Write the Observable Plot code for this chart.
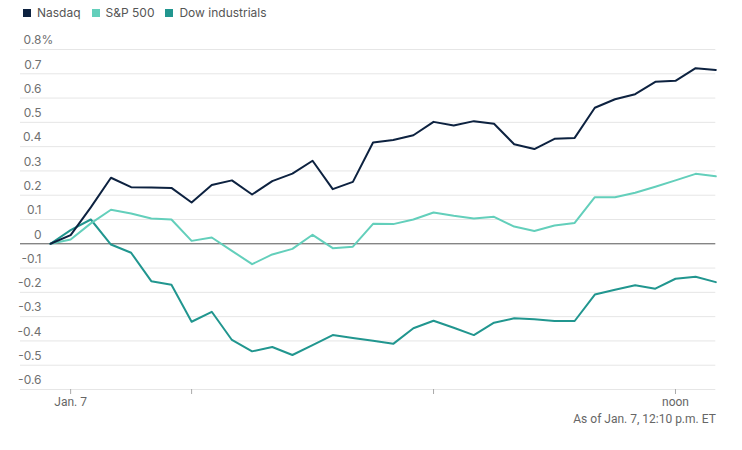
<!DOCTYPE html>
<html><head><meta charset="utf-8">
<script src="https://cdn.jsdelivr.net/npm/d3@7"></script>
<script src="https://cdn.jsdelivr.net/npm/@observablehq/plot@0.6"></script>
<style>
body{margin:0;background:#fff;font-family:Inter,sans-serif;}
#legend{height:25px;display:flex;align-items:center;padding-left:23px;font-size:12px;color:#555;}
.item{display:flex;align-items:center;margin-right:11px;}
.sw{width:8px;height:8px;margin-right:6px;}
svg{display:block;}
</style></head><body>
<div id="legend"></div>
<div id="chart"></div>
<script>
const seriesNames = ["Nasdaq", "S&P 500", "Dow industrials"];
const seriesColors = ["#0d2240", "#63cfbb", "#21968f"];
const times = ["09:25","09:30","09:35","09:40","09:45","09:50","09:55","10:00","10:05","10:10","10:15","10:20","10:25","10:30","10:35","10:40","10:45","10:50","10:55","11:00","11:05","11:10","11:15","11:20","11:25","11:30","11:35","11:40","11:45","11:50","11:55","12:00","12:05","12:10"];
const nasdaq = [0, 0.036, 0.15, 0.272, 0.233, 0.232, 0.230, 0.170, 0.242, 0.261, 0.203, 0.258, 0.289, 0.342, 0.225, 0.255, 0.417, 0.427, 0.447, 0.502, 0.487, 0.505, 0.494, 0.41, 0.39, 0.432, 0.436, 0.56, 0.595, 0.616, 0.667, 0.671, 0.723, 0.716];
const sp500 = [0, 0.018, 0.084, 0.14, 0.125, 0.104, 0.10, 0.012, 0.026, -0.029, -0.084, -0.044, -0.021, 0.037, -0.018, -0.012, 0.082, 0.081, 0.10, 0.129, 0.115, 0.104, 0.111, 0.071, 0.053, 0.075, 0.086, 0.192, 0.192, 0.21, 0.235, 0.261, 0.288, 0.278];
const dow = [0, 0.056, 0.10, -0.003, -0.037, -0.154, -0.169, -0.321, -0.28, -0.396, -0.443, -0.425, -0.458, -0.417, -0.376, -0.388, -0.399, -0.412, -0.348, -0.317, -0.346, -0.376, -0.325, -0.307, -0.311, -0.318, -0.318, -0.209, -0.189, -0.171, -0.185, -0.144, -0.136, -0.158];
const yTicks = [0.8, 0.7, 0.6, 0.5, 0.4, 0.3, 0.2, 0.1, 0, -0.1, -0.2, -0.3, -0.4, -0.5, -0.6];
const xTickTimes = ["09:30", "10:00", "11:00", "12:00"];
const xTickLabels = {"09:30": "Jan. 7", "12:00": "noon"};
const caption = "As of Jan. 7, 12:10 p.m. ET";

const toDate = (t) => { const [h, m] = t.split(":").map(Number); return new Date(Date.UTC(2020, 0, 7, h, m)); };
const fmtKey = (d) => String(d.getUTCHours()).padStart(2, "0") + ":" + String(d.getUTCMinutes()).padStart(2, "0");

const valuesBySeries = [nasdaq, sp500, dow];
const rows = [];
[2, 1, 0].forEach(si => {
  valuesBySeries[si].forEach((v, i) => rows.push({series: seriesNames[si], time: toDate(times[i]), value: v}));
});

// legend
const legend = document.getElementById("legend");
seriesNames.forEach((n, i) => {
  const it = document.createElement("div"); it.className = "item";
  const sw = document.createElement("div"); sw.className = "sw"; sw.style.background = seriesColors[i];
  const tx = document.createElement("span"); tx.textContent = n;
  it.appendChild(sw); it.appendChild(tx); legend.appendChild(it);
});

const chart = Plot.plot({
  width: 742,
  height: 425,
  marginTop: 24,
  marginBottom: 61,
  marginLeft: 20,
  marginRight: 26.7,
  style: {fontFamily: "Roboto, sans-serif", fontSize: "12px", color: "#666", background: "#fff"},
  x: {type: "utc", domain: [new Date(Date.UTC(2020, 0, 7, 9, 17, 34)), toDate("12:10")], axis: null},
  y: {domain: [-0.6, 0.8], axis: null},
  color: {domain: seriesNames, range: seriesColors},
  marks: [
    Plot.ruleY(yTicks.filter(d => d !== 0), {stroke: "#e6e6e6", strokeWidth: 1}),
    Plot.text(yTicks, {y: d => d, frameAnchor: "left", dx: 21, dy: -9, textAnchor: "end", text: d => String(d), fontFamily: "Inter, sans-serif", fontSize: 12, fill: "#707070"}),
    Plot.text(yTicks.filter(d => d === 0.8), {y: d => d, frameAnchor: "left", dx: 21, dy: -9, textAnchor: "start", text: d => "%", fontFamily: "Inter, sans-serif", fontSize: 12, fill: "#707070"}),
    Plot.axisX({ticks: xTickTimes.map(toDate), tickSize: 5, tickPadding: 3, tickFormat: d => xTickLabels[fmtKey(d)] || "", stroke: "#aaa", fill: "#666", fontSize: 12}),
    Plot.ruleY([0], {stroke: "#555", strokeWidth: 1}),
    Plot.lineY(rows, {x: "time", y: "value", stroke: "series", z: "series", strokeWidth: 2}),
    Plot.text([caption], {frameAnchor: "bottom-right", dy: 33, textAnchor: "end", text: d => d, fill: "#666", fontSize: 12})
  ]
});
document.getElementById("chart").appendChild(chart);
</script>
</body></html>
